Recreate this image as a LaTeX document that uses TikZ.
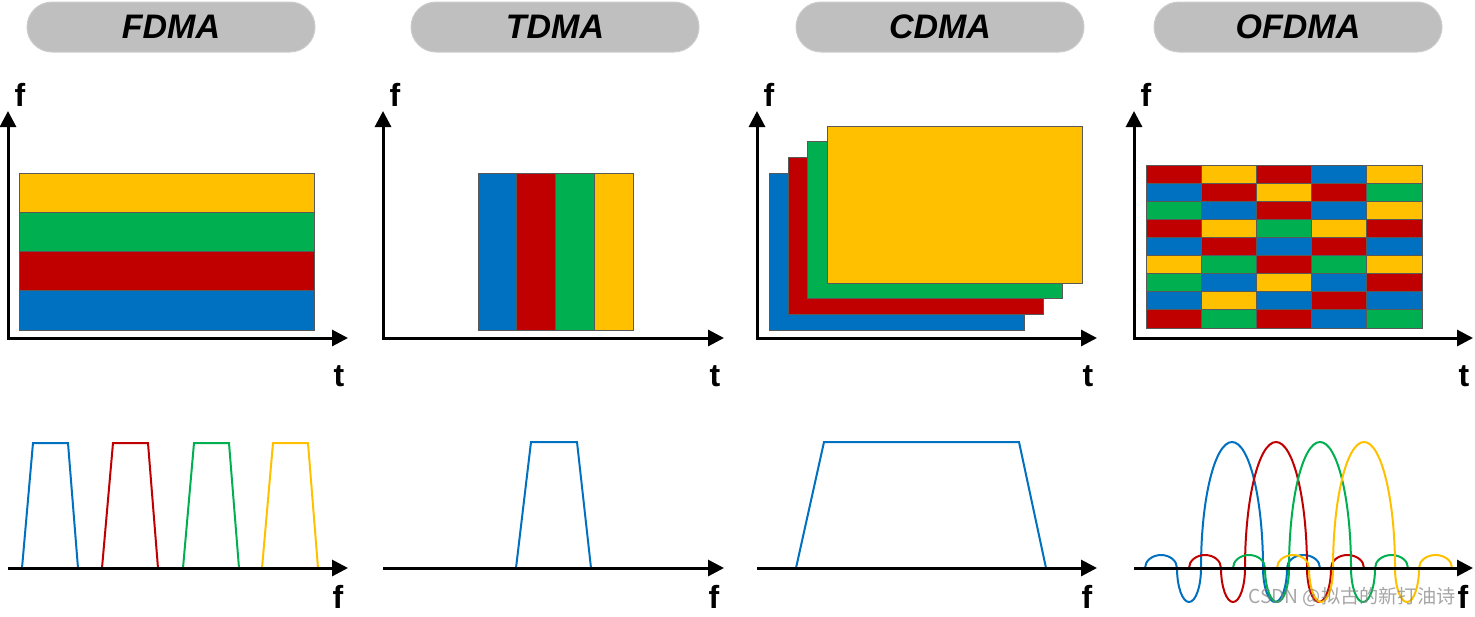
\documentclass[tikz,border=0pt]{standalone}
\usepackage{fontspec}
\setmainfont{Liberation Sans}
\newfontfamily\cjkfont{Noto Sans CJK SC}
\usepackage{tikz}
\usetikzlibrary{arrows.meta,shapes}
\definecolor{mblue}{HTML}{0070C0}
\definecolor{mred}{HTML}{C00000}
\definecolor{mgreen}{HTML}{00B050}
\definecolor{myellow}{HTML}{FFC000}
\definecolor{pillgray}{HTML}{BFBFBF}
\newcommand{\axw}{1.5pt}
\newcommand{\sigw}{1pt}
\tikzset{
  axes/.style={line width=\axw, line join=miter, {Triangle[length=8pt,width=8pt]}-{Triangle[length=8pt,width=8pt]}},
  faxis/.style={line width=\axw, -{Triangle[length=8pt,width=8pt]}},
  pill/.style={fill=pillgray, draw=pillgray!80, line width=0.5pt, rounded corners=12.5pt,
    minimum width=144pt, minimum height=25pt, font=\fontsize{17}{20}\selectfont\bfseries\itshape},
  lbl/.style={inner sep=0pt, font=\fontsize{16}{18}\selectfont\bfseries},
  cell/.style={draw=black!65, line width=0.4pt},
  trap/.style={line width=\sigw, line join=miter},
  wave/.style={line width=\sigw},
  watermark/.style={inner sep=0pt, text=gray, opacity=0.7, font=\cjkfont\fontsize{9.6}{11}\selectfont}
}

\begin{document}
\begin{tikzpicture}[x=0.5pt,y=-0.5pt]
  %\draw[help lines] (0,0) grid (1475,616);
  \useasboundingbox (0,0) rectangle (1475,616);
  \foreach \name/\x in {FDMA/171,TDMA/555,CDMA/940,OFDMA/1298}
    \node[pill] (\name) at (\x,27) {\name};

  % FDMA
  \foreach \c [count=\i from 0] in {myellow,mgreen,mred,mblue}
    \draw[cell,fill=\c] (19,{173+39.25*\i}) rectangle +(295,39.25);
  \foreach \x/\c in {22/mblue,102/mred,183/mgreen,262/myellow}
    \draw[trap,\c] (\x,568) -- ({\x+11},443) -- ({\x+46},443) -- ({\x+56},568);

  % TDMA
  \foreach \c [count=\i from 0] in {mblue,mred,mgreen,myellow}
    \draw[cell,fill=\c] ({478+38.75*\i},173) rectangle +(38.75,157);
  \draw[trap,mblue] (516,568) -- (531,442) -- (577,442) -- (591,568);

  % CDMA
  \foreach \c [count=\i from 0] in {mblue,mred,mgreen,myellow}
    \draw[cell,fill=\c] ({769+19.3*\i},{173-15.7*\i}) rectangle +(255,157);
  \draw[trap,mblue] (796,568) -- (824,442) -- (1019,442) -- (1046,568);

  % OFDMA
  \foreach \row [count=\j from 0] in {
      {mred,myellow,mred,mblue,myellow},
      {mblue,mred,myellow,mred,mgreen},
      {mgreen,mblue,mred,mblue,myellow},
      {mred,myellow,mgreen,myellow,mred},
      {mblue,mred,mblue,mred,mblue},
      {myellow,mgreen,mred,mgreen,myellow},
      {mgreen,mblue,myellow,mblue,mred},
      {mblue,myellow,mblue,mred,mblue},
      {mred,mgreen,mred,mblue,mgreen}}
    \foreach \c [count=\i from 0] in \row
      \draw[cell,fill=\c] ({1146+55.2*\i},{165+18.1*\j}) rectangle +(55.2,18.1);
  \foreach \c/\col in {1232/mblue,1276/mred,1320/mgreen,1364/myellow}
    \draw[wave,\col] ({\c-87},568)
      arc[start angle=180,end angle=0,x radius=8pt,y radius=6.5pt]
      arc[start angle=180,end angle=360,x radius=6pt,y radius=17pt]
      arc[start angle=180,end angle=0,x radius=15.5pt,y radius=63pt]
      arc[start angle=180,end angle=360,x radius=6pt,y radius=17pt]
      arc[start angle=180,end angle=0,x radius=8.25pt,y radius=6.5pt];

  % axes
  \foreach \n/\x/\xt in {1/8/348,2/383/724,3/757/1097,4/1134/1473}{
    \coordinate (top\n) at (\x,111);
    \coordinate (o\n) at (\x,338);
    \coordinate (t\n) at (\xt,338);
    \coordinate (b\n) at (\x,568);
    \coordinate (e\n) at (\xt,568);
    \draw[axes] (top\n) -- (o\n) -- (t\n);
    \draw[faxis] (b\n) -- (e\n);
    \node[lbl] (fl\n) at ({\x+12},95) {f};
    \node[lbl] (tl\n) at ({\xt-9},376) {t};
    \node[lbl] (fb\n) at ({\xt-10},597) {f};
  }

  \node[watermark,anchor=west] (wm) at (1248,597) {CSDN @拟古的新打油诗};
\end{tikzpicture}
\end{document}
